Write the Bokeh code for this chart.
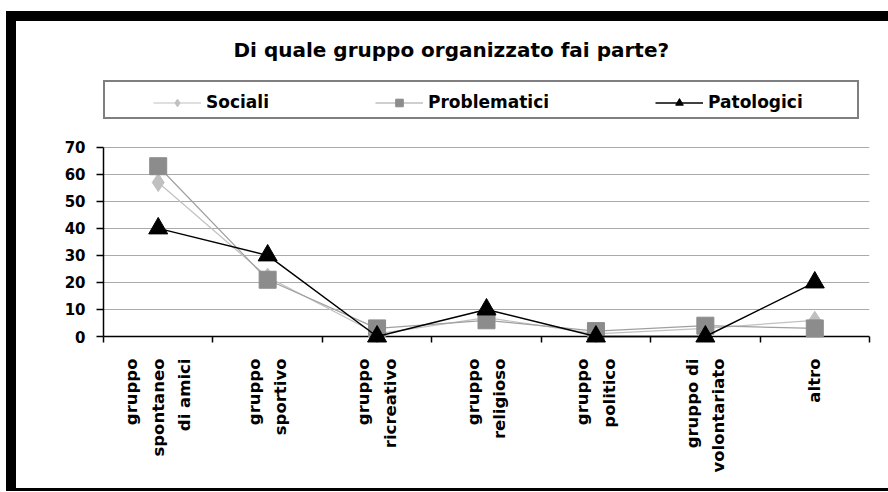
import math
from bokeh.plotting import figure
from bokeh.models import Range1d, FixedTicker, Legend, LegendItem, Title, Div, Spacer, Span
from bokeh.layouts import column, row
from bokeh.embed import file_html
from bokeh.resources import INLINE

# ---- data ----
categories = ["gruppo\nspontaneo\ndi amici", "gruppo\nsportivo", "gruppo\nricreativo",
              "gruppo\nreligioso", "gruppo\npolitico", "gruppo di\nvolontariato", "altro"]
sociali = [57, 22, 1, 7, 1, 3, 6]
problematici = [63, 21, 3, 6, 2, 4, 3]
patologici = [40, 30, 0, 10, 0, 0, 20]
y_ticks = [0, 10, 20, 30, 40, 50, 60, 70]
series_names = ["Sociali", "Problematici", "Patologici"]
title_text = "Di quale gruppo organizzato fai parte?"

FONT = "DejaVu Sans"
n = len(categories)
xs = [i + 0.5 for i in range(n)]

p = figure(width=872, height=467, x_range=Range1d(0, n), y_range=Range1d(-3.7, 99.9),
           output_backend="svg", toolbar_location=None,
           min_border_left=87, min_border_right=19, min_border_top=45, min_border_bottom=142)
p.outline_line_color = None
p.background_fill_color = "white"
p.border_fill_color = "white"

title = Title(text=title_text, align="left", offset=130, text_font=FONT,
              text_font_size="20px", text_font_style="bold", text_color="black", standoff=10)
p.add_layout(title, "above")

# x axis (line drawn as a span at y = 0)
xa = p.xaxis[0]
xa.ticker = FixedTicker(ticks=xs, minor_ticks=list(range(0, n + 1)))
xa.major_label_overrides = {x: c for x, c in zip(xs, categories)}
xa.major_label_orientation = math.pi / 2
xa.major_tick_line_color = None
xa.major_tick_out = 0
xa.major_tick_in = 0
xa.minor_tick_in = 10
xa.minor_tick_out = -4
xa.minor_tick_line_color = "black"
xa.minor_tick_line_width = 1.5
xa.axis_line_color = None
xa.major_label_text_color = "black"
xa.major_label_text_font = FONT
xa.major_label_text_font_size = "16.5px"
xa.major_label_text_font_style = "bold"
xa.major_label_text_line_height = 1.4
xa.major_label_standoff = 12

# y axis
ya = p.yaxis[0]
ya.ticker = FixedTicker(ticks=y_ticks)
ya.bounds = (0, 70)
ya.major_tick_out = 7
ya.major_tick_in = 0
ya.major_tick_line_color = "black"
ya.major_tick_line_width = 1.5
ya.minor_tick_line_color = None
ya.axis_line_color = "black"
ya.axis_line_width = 1.5
ya.major_label_text_color = "black"
ya.major_label_text_font = FONT
ya.major_label_text_font_size = "15px"
ya.major_label_text_font_style = "bold"
ya.major_label_standoff = 11

p.xgrid.visible = False
p.ygrid.ticker = FixedTicker(ticks=y_ticks)
p.ygrid.grid_line_color = "#aaaaaa"
p.ygrid.grid_line_width = 1

x_axis_line = Span(location=0, dimension="width", line_color="black", line_width=1.5, level="underlay")
p.add_layout(x_axis_line)

# series
r_dummy = p.line(xs, sociali, line_alpha=0)
s_line = p.line(xs, sociali, line_color="#c0c0c0", line_width=1.2)
s_pt = p.scatter(xs, sociali, marker="diamond", size=18, fill_color="#c0c0c0", line_color="#c0c0c0")
p_line = p.line(xs, problematici, line_color="#a0a0a0", line_width=1.2)
p_pt = p.scatter(xs, problematici, marker="square", size=17, fill_color="#8c8c8c", line_color="#8c8c8c")
t_line = p.line(xs, patologici, line_color="black", line_width=1.5)
t_pt = p.scatter(xs, patologici, marker="triangle", size=19, fill_color="black", line_color="black")

# legend box
box = Legend(items=[LegendItem(label=" ", renderers=[r_dummy])], location=(0, 227),
             orientation="horizontal", padding=8, margin=0, glyph_width=10, glyph_height=19,
             label_standoff=0, label_width=726, label_height=19, label_text_font_size="10px",
             border_line_color="black", border_line_width=2,
             background_fill_color="white", background_fill_alpha=1)
p.add_layout(box, "center")

leg = Legend(items=[LegendItem(label=series_names[0], renderers=[s_line, s_pt]),
                    LegendItem(label=series_names[1], renderers=[p_line, p_pt]),
                    LegendItem(label=series_names[2], renderers=[t_line, t_pt])],
             location=(50, 234), orientation="horizontal", padding=0, margin=0,
             glyph_width=48, glyph_height=19, label_standoff=5, spacing=106, label_height=19,
             label_text_font=FONT, label_text_font_size="17px", label_text_font_style="bold",
             label_text_color="black",
             border_line_color=None, background_fill_alpha=0)
p.add_layout(leg, "center")

top_band = Div(width=882, height=10, margin=0, styles={"background-color": "black"})
left_band = Div(width=10, height=467, margin=0, styles={"background-color": "black"})
bottom_band = Div(width=882, height=3, margin=0, styles={"background-color": "black"})
inner = column(top_band, row(left_band, p, spacing=0), bottom_band, spacing=0)
layout = column(Spacer(width=888, height=11, margin=0),
                row(Spacer(width=6, height=480, margin=0), inner, spacing=0), spacing=0)

open("out.html", "w").write(file_html(layout, INLINE))
